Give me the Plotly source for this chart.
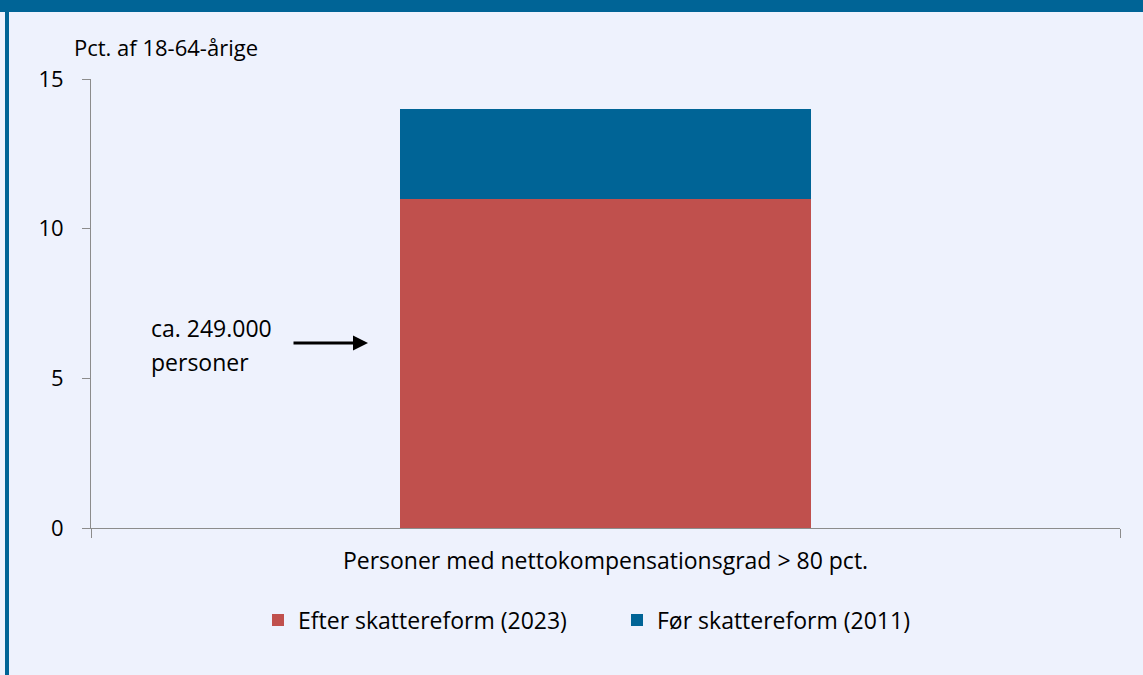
import plotly.graph_objects as go

# Data
category = ["Personer med nettokompensationsgrad > 80 pct."]
efter_2023 = [11]   # red base segment
foer_2011 = [3]     # blue top segment (total ca. 14)
series_names = ["Efter skattereform (2023)", "Før skattereform (2011)"]
y_ticks = [0, 5, 10, 15]

bg = "#EEF2FD"
red = "#C0504D"
blue = "#006496"
font = "Open Sans"

W, H = 1143, 675
L, R, T, B = 91, 23, 79, 147
pw, ph = W - L - R, H - T - B

def px_x(x):
    return (x - L) / pw

def px_y(y):
    return (H - B - y) / ph

fig = go.Figure()
fig.add_trace(go.Bar(x=category, y=efter_2023, name=series_names[0],
                     marker=dict(color=red, line=dict(width=0))))
fig.add_trace(go.Bar(x=category, y=foer_2011, name=series_names[1],
                     marker=dict(color=blue, line=dict(width=0))))

fig.update_layout(
    width=W, height=H,
    barmode="stack", bargap=0.6,
    paper_bgcolor=bg, plot_bgcolor=bg,
    margin=dict(l=L, r=R, t=T, b=B),
    font=dict(family=font, size=23, color="#000000"),
    legend=dict(orientation="h", x=px_x(258), xanchor="left",
                y=px_y(620), yanchor="middle", traceorder="normal",
                entrywidth=353, entrywidthmode="pixels",
                font=dict(size=23), itemwidth=30, bgcolor="rgba(0,0,0,0)"),
    showlegend=True,
)
fig.update_layout(legend_entrywidth=314)

fig.update_xaxes(showline=True, linecolor="#8C8C8C", linewidth=1,
                 ticks="outside", tickson="boundaries", ticklen=9,
                 tickcolor="#8C8C8C", showgrid=False,
                 ticklabelstandoff=12, tickfont=dict(size=23))
fig.update_yaxes(range=[0, 15], tickvals=y_ticks, showline=True,
                 linecolor="#8C8C8C", linewidth=1, ticks="outside",
                 ticklen=8, tickcolor="#8C8C8C", showgrid=False,
                 zeroline=False, ticklabelstandoff=14, tickfont=dict(size=22))

# y axis unit label
fig.add_annotation(text="Pct. af 18-64-årige", xref="paper", yref="paper",
                   x=px_x(72), y=px_y(47), xanchor="left", yanchor="middle",
                   showarrow=False, font=dict(size=22))

# callout
fig.add_annotation(text="ca. 249.000", xref="paper", yref="paper",
                   x=px_x(149), y=px_y(328), xanchor="left", yanchor="middle",
                   showarrow=False, font=dict(size=23))
fig.add_annotation(text="personer", xref="paper", yref="paper",
                   x=px_x(149), y=px_y(362), xanchor="left", yanchor="middle",
                   showarrow=False, font=dict(size=23))
fig.add_annotation(text="", xref="paper", yref="paper",
                   x=px_x(368), y=px_y(343), ax=-76, ay=0,
                   showarrow=True, arrowhead=2, arrowsize=1, arrowwidth=3,
                   arrowcolor="#000000")

# frame: dark band on top and a stripe on the left
fig.add_shape(type="rect", xref="paper", yref="paper",
              x0=px_x(0), x1=px_x(W), y0=px_y(12), y1=px_y(0),
              fillcolor=blue, line=dict(width=0), layer="above")
fig.add_shape(type="rect", xref="paper", yref="paper",
              x0=px_x(5), x1=px_x(9), y0=px_y(H), y1=px_y(0),
              fillcolor=blue, line=dict(width=0), layer="above")

# drop the default page margin so the figure fills the window
fig.write_html("out.html", config={"displayModeBar": False},
               post_script="document.body.style.margin='0';")
